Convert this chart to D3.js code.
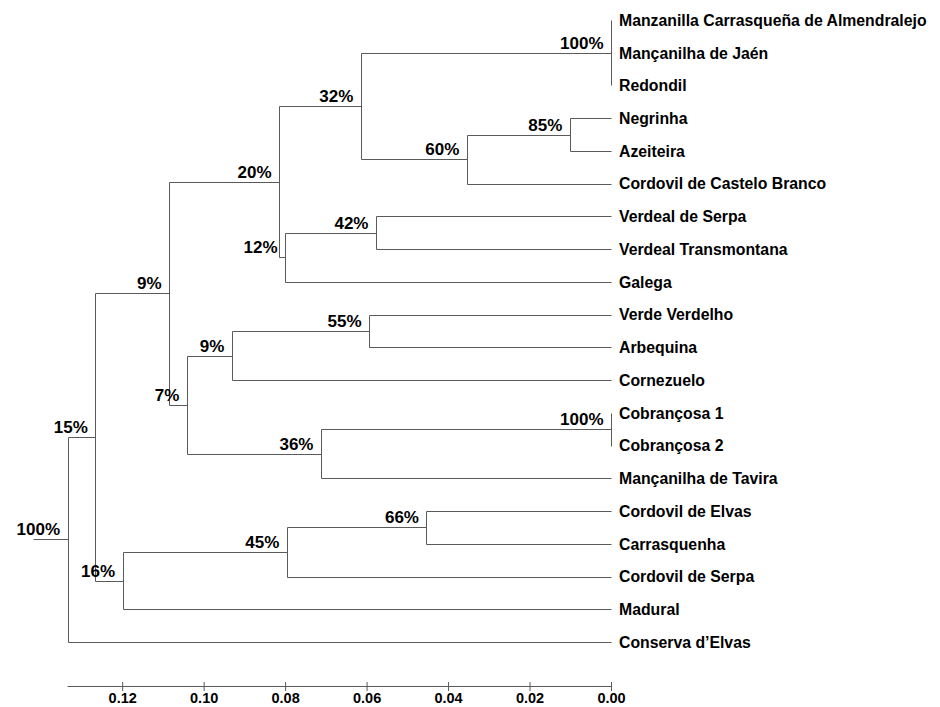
<!DOCTYPE html>
<html>
<head>
<meta charset="utf-8">
<script src="https://cdn.jsdelivr.net/npm/d3@7"></script>
<style>
  html, body { margin: 0; padding: 0; background: #fff; }
  svg { display: block; }
  text { font-family: "Liberation Sans", Arial, sans-serif; font-weight: bold; fill: #000; }
</style>
</head>
<body>
<svg id="chart" width="940" height="707"></svg>
<script>
// ---- data ----
const leafNames = [
  "Manzanilla Carrasqueña de Almendralejo",
  "Mançanilha de Jaén",
  "Redondil",
  "Negrinha",
  "Azeiteira",
  "Cordovil de Castelo Branco",
  "Verdeal de Serpa",
  "Verdeal Transmontana",
  "Galega",
  "Verde Verdelho",
  "Arbequina",
  "Cornezuelo",
  "Cobrançosa 1",
  "Cobrançosa 2",
  "Mançanilha de Tavira",
  "Cordovil de Elvas",
  "Carrasquenha",
  "Cordovil de Serpa",
  "Madural",
  "Conserva d’Elvas"
];

const clusterNames = ["root","c15","c9a","c20","c32","m100","c60","c85","c12","c42","c7","c9b","c55","c36","b100","c16","c45","c66"];

const clusterChildren = [
  ["c15", "Conserva d’Elvas"],
  ["c9a", "c16"],
  ["c20", "c7"],
  ["c32", "c12"],
  ["m100", "c60"],
  ["Manzanilla Carrasqueña de Almendralejo", "Mançanilha de Jaén", "Redondil"],
  ["c85", "Cordovil de Castelo Branco"],
  ["Negrinha", "Azeiteira"],
  ["c42", "Galega"],
  ["Verdeal de Serpa", "Verdeal Transmontana"],
  ["c9b", "c36"],
  ["c55", "Cornezuelo"],
  ["Verde Verdelho", "Arbequina"],
  ["b100", "Mançanilha de Tavira"],
  ["Cobrançosa 1", "Cobrançosa 2"],
  ["c45", "Madural"],
  ["c66", "Cordovil de Serpa"],
  ["Cordovil de Elvas", "Carrasquenha"]
];

const clusterHeights = [0.1334, 0.1266, 0.1085, 0.0815, 0.0614, 0.0, 0.0354, 0.0101, 0.0800, 0.0577,
                        0.1041, 0.0931, 0.0594, 0.0712, 0.0, 0.1199, 0.0796, 0.0453];

const clusterSupport = ["100%","15%","9%","20%","32%","100%","60%","85%","12%","42%",
                        "7%","9%","55%","36%","100%","16%","45%","66%"];

const rootBranch = 0.0085;
const tickValues = [0.12, 0.10, 0.08, 0.06, 0.04, 0.02, 0.00];

// ---- build hierarchy ----
const rows = [];
clusterNames.forEach((id, i) => rows.push({ id, parentId: null, h: clusterHeights[i], support: clusterSupport[i] }));
leafNames.forEach(n => rows.push({ id: n, parentId: null, h: 0, support: null }));
const byId = new Map(rows.map(r => [r.id, r]));
clusterChildren.forEach((kids, i) => kids.forEach(k => { byId.get(k).parentId = clusterNames[i]; }));
const root = d3.stratify().id(d => d.id).parentId(d => d.parentId)(rows);

// ---- scales ----
const x = d3.scaleLinear().domain([clusterHeights[0], 0]).range([67.6, 611]);
const y = d3.scalePoint().domain(leafNames).range([20, 642]);

root.eachAfter(n => {
  if (!n.children) n.py = y(n.id);
  else n.py = d3.mean(n.children, c => c.py);
  n.px = x(n.data.h);
});

const svg = d3.select("#chart");
const crisp = v => Math.round(v) + 0.5;
const lineColor = "#5a5a5a";

const g = svg.append("g");

// vertical connectors
root.descendants().filter(n => n.children).forEach(n => {
  const ys = n.children.map(c => c.py);
  g.append("line")
    .attr("x1", crisp(n.px)).attr("x2", crisp(n.px))
    .attr("y1", crisp(d3.min(ys))).attr("y2", crisp(d3.max(ys)))
    .attr("stroke", lineColor).attr("stroke-width", 1);
});

// horizontal branches
root.descendants().filter(n => n.parent).forEach(n => {
  if (Math.abs(n.px - n.parent.px) < 0.5) return;
  g.append("line")
    .attr("x1", crisp(n.parent.px)).attr("x2", crisp(n.px))
    .attr("y1", crisp(n.py)).attr("y2", crisp(n.py))
    .attr("stroke", lineColor).attr("stroke-width", 1);
});

// root stub
g.append("line")
  .attr("x1", crisp(x(clusterHeights[0] + rootBranch))).attr("x2", crisp(root.px))
  .attr("y1", crisp(root.py)).attr("y2", crisp(root.py))
  .attr("stroke", lineColor).attr("stroke-width", 1);

// leaf labels
root.leaves().forEach(n => {
  g.append("text")
    .attr("x", n.px + 8)
    .attr("y", n.py + 5.8)
    .attr("font-size", "15.8px")
    .text(n.id);
});

// support labels
root.descendants().filter(n => n.children).forEach(n => {
  g.append("text")
    .attr("x", n.px - 7.5)
    .attr("y", n.py - 4)
    .attr("text-anchor", "end")
    .attr("font-size", "17px")
    .text(n.data.support);
});

// axis
const axisY = 686.5;
svg.append("line")
  .attr("x1", x.range()[0]).attr("x2", x.range()[1])
  .attr("y1", axisY).attr("y2", axisY)
  .attr("stroke", lineColor).attr("stroke-width", 1);

const axis = d3.axisBottom(x)
  .tickValues(tickValues)
  .tickFormat(d3.format(".2f"))
  .tickSize(9)
  .tickSizeOuter(0)
  .tickPadding(1.5);

const ax = svg.append("g")
  .attr("transform", `translate(0,${axisY - 4.5})`)
  .call(axis);
ax.select(".domain").remove();
ax.selectAll(".tick line").attr("stroke", lineColor);
ax.selectAll(".tick text")
  .attr("font-size", "14.5px")
  .attr("font-family", "Liberation Sans, Arial, sans-serif")
  .attr("font-weight", "bold")
  .attr("fill", "#000");
ax.attr("font-family", null).attr("font-size", null);
</script>
</body>
</html>
